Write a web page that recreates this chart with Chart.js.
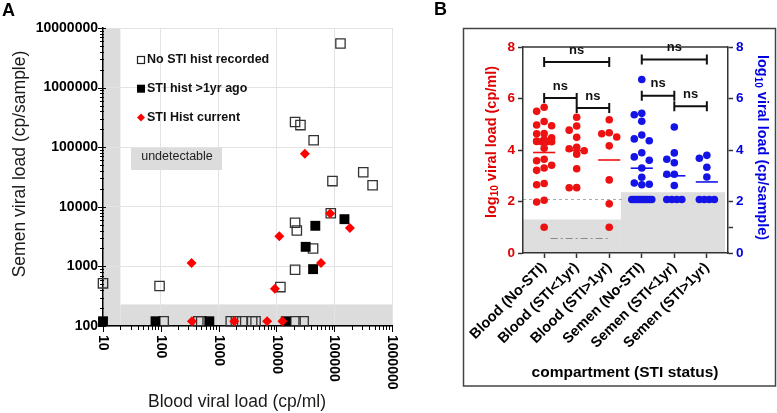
<!DOCTYPE html>
<html>
<head>
<meta charset="utf-8">
<script src="https://cdn.jsdelivr.net/npm/chart.js@4.4.1/dist/chart.umd.min.js"></script>
<style>
  html, body { margin: 0; padding: 0; background: #fff; }
  #wrap { position: relative; width: 777px; height: 413px; }
  #chartA { position: absolute; left: 0; top: 0; }
  #chartB { position: absolute; left: 400px; top: 0; }
</style>
</head>
<body>
<div id="wrap">
  <canvas id="chartA" width="400" height="413"></canvas>
  <canvas id="chartB" width="377" height="413"></canvas>
</div>
<script>
const FONT = "'Liberation Sans', Arial, Helvetica, sans-serif";

// Panel A: blood (cp/ml) vs semen (cp/sample), one pair per participant
const noStiBlood = [128000, 21000, 26000, 44000, 93000, 317000, 460000, 87000, 21000, 22500, 43000, 21000, 11700, 95, 10,
  112, 445, 500, 1620, 1990, 2560, 3800, 4350, 21400, 29500];
const noStiSemen = [5500000, 265000, 235000, 131000, 27000, 38000, 23000, 7800, 5400, 4000, 2000, 880, 450, 470, 520,
  120, 120, 120, 120, 120, 120, 120, 120, 120, 120];
const pastStiBlood = [47000, 150000, 32000, 43000, 10, 81, 690, 14500];
const pastStiSemen = [4800, 6200, 2130, 900, 120, 120, 120, 120];
const currentStiBlood = [31000, 85000, 186000, 11200, 59000, 340, 9400, 345, 1860, 6900, 12700];
const currentStiSemen = [78000, 7700, 4400, 3200, 1140, 1140, 420, 120, 120, 120, 120];

const xTicksA = [10, 100, 1000, 10000, 100000, 1000000];
const yTicksA = [100, 1000, 10000, 100000, 1000000, 10000000];

// detection limits (shaded grey)
const bloodLimit = 20;
const semenLimit = 230;

// Panel B: same data on log10 scale, grouped by compartment and STI status
const groupLabels = ['Blood (No-STI)', 'Blood (STI<1yr)', 'Blood (STI>1yr)', 'Semen (No-STI)', 'Semen (STI<1yr)', 'Semen (STI>1yr)'];
const yTicksB = [0, 2, 4, 6, 8];
const yTicksB2 = [0, 1, 2, 4, 6, 8];
// comparisons: [from group, to group, bracket height]
const bracketsB = [[0, 2, 7.42], [3, 5, 7.51], [0, 1, 6.02], [1, 2, 5.63], [3, 4, 6.11], [4, 5, 5.70]];

Chart.defaults.font.family = FONT;
Chart.defaults.color = '#000';

const toPoints = (xs, ys) => xs.map((x, i) => ({ x, y: ys[i] }));

function logSteps(min, max) {
  const out = [];
  for (let e = Math.floor(Math.log10(min)); e <= Math.ceil(Math.log10(max)); e++) {
    for (let k = 1; k <= 9; k++) {
      const v = k * Math.pow(10, e);
      if (v >= min * 0.999 && v <= max * 1.001) out.push({ v, major: k === 1 });
    }
  }
  return out;
}

const legendA = [
  { label: 'No STI hist recorded', style: 'open' },
  { label: 'STI hist >1yr ago', style: 'filled' },
  { label: 'STI Hist current', style: 'diamond' }
];

const panelA = {
  id: 'panelA',
  beforeDraw(chart) {
    const { ctx, chartArea: a, scales: { x, y } } = chart;
    const bx = x.getPixelForValue(bloodLimit);
    const sy = y.getPixelForValue(semenLimit);
    ctx.save();
    ctx.fillStyle = '#dcdcdc';
    ctx.fillRect(a.left, a.top, bx - a.left, a.bottom - a.top);
    ctx.fillRect(bx, sy, a.right - bx, a.bottom - sy);
    ctx.restore();
  },
  beforeDatasetsDraw(chart) {
    const { ctx } = chart;
    ctx.save();
    ctx.fillStyle = '#dcdcdc';
    ctx.fillRect(131, 148, 91, 22);
    ctx.fillStyle = '#222';
    ctx.font = `12.5px ${FONT}`;
    ctx.textAlign = 'center';
    ctx.textBaseline = 'middle';
    ctx.fillText('undetectable', 177, 157);
    ctx.restore();
  },
  afterDraw(chart) {
    const { ctx, chartArea: a, scales: { x, y } } = chart;
    ctx.save();
    ctx.strokeStyle = '#000';
    ctx.lineWidth = 1;
    ctx.beginPath();
    logSteps(10, 1e6).forEach(t => {
      const px = Math.round(x.getPixelForValue(t.v)) + 0.5;
      ctx.moveTo(px, a.bottom);
      ctx.lineTo(px, a.bottom + (t.major ? 6 : 4));
    });
    logSteps(100, 1e7).forEach(t => {
      const py = Math.round(y.getPixelForValue(t.v)) + 0.5;
      ctx.moveTo(a.left - (t.major ? 5 : 3), py);
      ctx.lineTo(a.left + (t.major ? 3 : 1), py);
    });
    ctx.stroke();

    // x tick labels read downwards
    ctx.fillStyle = '#000';
    ctx.font = `bold 14px ${FONT}`;
    ctx.textAlign = 'left';
    ctx.textBaseline = 'middle';
    xTicksA.forEach(v => {
      ctx.save();
      ctx.translate(x.getPixelForValue(v), a.bottom + 9);
      ctx.rotate(Math.PI / 2);
      ctx.fillText(String(v), 0, 0);
      ctx.restore();
    });

    // axis titles
    ctx.fillStyle = '#1a1a1a';
    ctx.font = `17.5px ${FONT}`;
    ctx.textAlign = 'center';
    ctx.fillText('Blood viral load (cp/ml)', 237, 402);
    ctx.save();
    ctx.translate(20, 164);
    ctx.rotate(-Math.PI / 2);
    ctx.fillText('Semen viral load (cp/sample)', 0, 0);
    ctx.restore();

    ctx.fillStyle = '#000';
    ctx.font = `bold 18px ${FONT}`;
    ctx.textAlign = 'left';
    ctx.fillText('A', 2, 11);

    // legend inside the plot
    ctx.font = `bold 12.5px ${FONT}`;
    legendA.forEach((item, i) => {
      const cy = 60 + i * 28.7;
      const cx = 141;
      if (item.style === 'open') {
        ctx.strokeStyle = '#222';
        ctx.lineWidth = 1.2;
        ctx.strokeRect(cx - 3.5, cy - 3.5, 7, 7);
      } else if (item.style === 'filled') {
        ctx.fillStyle = '#000';
        ctx.fillRect(cx - 4, cy - 4, 8, 8);
      } else {
        ctx.fillStyle = '#f00';
        ctx.beginPath();
        ctx.moveTo(cx - 4, cy);
        ctx.lineTo(cx, cy - 4);
        ctx.lineTo(cx + 4, cy);
        ctx.lineTo(cx, cy + 4);
        ctx.closePath();
        ctx.fill();
      }
      ctx.fillStyle = '#111';
      ctx.fillText(item.label, 147, cy);
    });
    ctx.restore();
  }
};

new Chart(document.getElementById('chartA'), {
  type: 'scatter',
  data: {
    datasets: [
      {
        label: 'STI Hist current',
        data: toPoints(currentStiBlood, currentStiSemen),
        pointStyle: 'rectRot',
        pointRadius: 5,
        pointBackgroundColor: '#f00',
        pointBorderWidth: 0,
        order: 1,
        clip: false
      },
      {
        label: 'STI hist >1yr ago',
        data: toPoints(pastStiBlood, pastStiSemen),
        pointStyle: 'rect',
        pointRadius: 7,
        pointBackgroundColor: '#000',
        pointBorderWidth: 0,
        order: 2,
        clip: false
      },
      {
        label: 'No STI hist recorded',
        data: toPoints(noStiBlood, noStiSemen),
        pointStyle: 'rect',
        pointRadius: 6.6,
        pointBackgroundColor: 'rgba(0,0,0,0)',
        pointBorderColor: '#333',
        pointBorderWidth: 1.3,
        order: 3,
        clip: false
      }
    ]
  },
  options: {
    responsive: false,
    animation: false,
    events: [],
    layout: { padding: { top: 28, right: 6, left: 0, bottom: 0 } },
    plugins: { legend: { display: false }, tooltip: { enabled: false } },
    scales: {
      x: {
        type: 'logarithmic',
        min: 10,
        max: 1000000,
        afterBuildTicks: s => { s.ticks = xTicksA.map(v => ({ value: v })); },
        afterFit: s => { s.height = 87; },
        ticks: { display: false },
        grid: { color: '#e3e3e3', drawTicks: false },
        border: { color: '#000', width: 1.5 }
      },
      y: {
        type: 'logarithmic',
        min: 100,
        max: 10000000,
        afterBuildTicks: s => { s.ticks = yTicksA.map(v => ({ value: v })); },
        afterFit: s => { s.width = 103; },
        ticks: {
          padding: 5,
          color: '#000',
          font: { size: 14, weight: 'bold' },
          callback: v => String(v)
        },
        grid: { color: '#e3e3e3', drawTicks: false },
        border: { color: '#000', width: 1.5 }
      }
    }
  },
  plugins: [panelA]
});

// ---------- panel B ----------
const groupsB = [noStiBlood, currentStiBlood, pastStiBlood, noStiSemen, currentStiSemen, pastStiSemen]
  .map(arr => arr.map(v => Math.log10(v)));

const PX_X = 205 / 6.3;
const PX_Y = 206 / 8;
const SLOTS = [0, -7.5, 7.5];

// simple scatter-dot layout: three columns, long rows of equal values squeezed together
function swarm(values) {
  const order = values.map((v, i) => i).sort((p, q) => values[q] - values[p]);
  const offsets = new Array(values.length).fill(0);
  const placed = [];
  let k = 0;
  while (k < order.length) {
    let j = k;
    while (j + 1 < order.length && Math.abs(values[order[j + 1]] - values[order[k]]) < 0.01) j++;
    const n = j - k + 1;
    if (n >= 4) {
      const w = Math.min(20, (n - 1) * 5);
      for (let m = 0; m < n; m++) {
        const dx = -w / 2 + (w * m) / (n - 1);
        offsets[order[k + m]] = dx;
        placed.push([dx, values[order[k + m]] * PX_Y]);
      }
    } else {
      for (let m = k; m <= j; m++) {
        const py = values[order[m]] * PX_Y;
        let best = 0;
        let bestGap = -1;
        for (const dx of SLOTS) {
          const gap = Math.min(Infinity, ...placed.map(([qx, qy]) => Math.hypot(dx - qx, py - qy)));
          if (gap >= 7.5) { best = dx; break; }
          if (gap > bestGap) { best = dx; bestGap = gap; }
        }
        offsets[order[m]] = best;
        placed.push([best, py]);
      }
    }
    k = j + 1;
  }
  return offsets.map(dx => dx / PX_X);
}

const datasetsB = [];
groupsB.forEach((vals, i) => {
  const blood = i < 3;
  const color = blood ? '#ee1111' : '#1414e6';
  const axis = blood ? 'y' : 'y2';
  const offs = swarm(vals);
  datasetsB.push({
    data: vals.map((v, k) => ({ x: i + offs[k], y: v })),
    yAxisID: axis,
    pointRadius: 3.8,
    pointBackgroundColor: color,
    pointBorderWidth: 0,
    showLine: false,
    clip: false
  });
  const mean = vals.reduce((s, v) => s + v, 0) / vals.length;
  datasetsB.push({
    data: [{ x: i - 0.34, y: mean }, { x: i + 0.34, y: mean }],
    yAxisID: axis,
    showLine: true,
    borderColor: color,
    borderWidth: 1.6,
    pointRadius: 0
  });
});

function drawLogTitle(ctx, cx, cy, angle, unit, color) {
  const big = `bold 14.5px ${FONT}`;
  const small = `bold 10px ${FONT}`;
  const rest = ` viral load (${unit})`;
  ctx.save();
  ctx.translate(cx, cy);
  ctx.rotate(angle);
  ctx.fillStyle = color;
  ctx.textAlign = 'left';
  ctx.textBaseline = 'middle';
  ctx.font = big;
  const w1 = ctx.measureText('log').width;
  const w3 = ctx.measureText(rest).width;
  ctx.font = small;
  const w2 = ctx.measureText('10').width;
  const x0 = -(w1 + w2 + w3) / 2;
  ctx.font = big;
  ctx.fillText('log', x0, 0);
  ctx.font = small;
  ctx.fillText('10', x0 + w1, 4);
  ctx.font = big;
  ctx.fillText(rest, x0 + w1 + w2, 0);
  ctx.restore();
}

const panelB = {
  id: 'panelB',
  beforeDraw(chart) {
    const { ctx, chartArea: a, scales: { x, y } } = chart;
    const split = x.getPixelForValue(2.36);
    const end = x.getPixelForValue(5.56);
    const yb = y.getPixelForValue(Math.log10(bloodLimit));
    const ys = y.getPixelForValue(Math.log10(semenLimit));
    ctx.save();
    ctx.fillStyle = '#dedede';
    ctx.fillRect(a.left, yb, split - a.left, a.bottom - yb);
    ctx.fillRect(split, ys, end - split, a.bottom - ys);

    ctx.strokeStyle = '#aaa';
    ctx.lineWidth = 1;
    ctx.setLineDash([3, 3]);
    const yd = Math.round(y.getPixelForValue(Math.log10(120))) + 0.5;
    ctx.beginPath();
    ctx.moveTo(a.left, yd);
    ctx.lineTo(x.getPixelForValue(2.45), yd);
    ctx.stroke();

    ctx.strokeStyle = '#8a8a8a';
    ctx.setLineDash([7, 3, 2, 3]);
    const yl = Math.round(y.getPixelForValue(0.6)) + 0.5;
    ctx.beginPath();
    ctx.moveTo(x.getPixelForValue(0.2), yl);
    ctx.lineTo(x.getPixelForValue(1.95), yl);
    ctx.stroke();
    ctx.restore();
  },
  afterDraw(chart) {
    const { ctx, chartArea: a, scales: { x, y } } = chart;
    ctx.save();
    // top edge of plot and outer frame
    ctx.strokeStyle = '#333';
    ctx.lineWidth = 1.5;
    ctx.beginPath();
    ctx.moveTo(a.left, a.top);
    ctx.lineTo(a.right, a.top);
    ctx.stroke();
    ctx.strokeStyle = '#444';
    ctx.strokeRect(63.5, 28.5, 312, 357.5);

    // significance brackets
    ctx.strokeStyle = '#111';
    ctx.fillStyle = '#111';
    ctx.lineWidth = 2;
    ctx.font = `bold 13px ${FONT}`;
    ctx.textAlign = 'center';
    ctx.textBaseline = 'middle';
    bracketsB.forEach(([from, to, level]) => {
      const x1 = x.getPixelForValue(from);
      const x2 = x.getPixelForValue(to);
      const py = y.getPixelForValue(level);
      ctx.beginPath();
      ctx.moveTo(x1, py - 5);
      ctx.lineTo(x1, py + 5);
      ctx.moveTo(x1, py);
      ctx.lineTo(x2, py);
      ctx.moveTo(x2, py - 5);
      ctx.lineTo(x2, py + 5);
      ctx.stroke();
      ctx.fillText('ns', (x1 + x2) / 2, py - 12);
    });

    drawLogTitle(ctx, 91.7, 142, -Math.PI / 2, 'cp/ml', '#e00000');
    drawLogTitle(ctx, 361.7, 147.5, Math.PI / 2, 'cp/sample', '#0000e0');

    ctx.fillStyle = '#000';
    ctx.font = `bold 15.5px ${FONT}`;
    ctx.fillText('compartment (STI status)', 225, 373);

    ctx.font = `bold 18px ${FONT}`;
    ctx.textAlign = 'left';
    ctx.fillText('B', 34, 10);
    ctx.restore();
  }
};

const axisTicks = { drawOnChartArea: false, tickLength: 5, tickColor: '#333', tickWidth: 1.5 };

new Chart(document.getElementById('chartB'), {
  type: 'scatter',
  data: { datasets: datasetsB },
  options: {
    responsive: false,
    animation: false,
    events: [],
    layout: { padding: { top: 47, right: 0, left: 0, bottom: 0 } },
    plugins: { legend: { display: false }, tooltip: { enabled: false } },
    scales: {
      x: {
        type: 'linear',
        min: -0.65,
        max: 5.65,
        afterBuildTicks: s => { s.ticks = groupLabels.map((_, i) => ({ value: i })); },
        afterFit: s => { s.height = 160; },
        ticks: {
          autoSkip: false,
          minRotation: 45,
          maxRotation: 45,
          padding: 1,
          color: '#000',
          font: { size: 14.5, weight: 'bold' },
          callback: v => groupLabels[v]
        },
        grid: axisTicks,
        border: { color: '#333', width: 1.5 }
      },
      y: {
        position: 'left',
        min: 0,
        max: 8,
        afterBuildTicks: s => { s.ticks = yTicksB.map(v => ({ value: v })); },
        afterFit: s => { s.width = 123; },
        ticks: { padding: 3, color: '#e00000', font: { size: 13.5, weight: 'bold' } },
        grid: axisTicks,
        border: { color: '#333', width: 1.5 }
      },
      y2: {
        position: 'right',
        min: 0,
        max: 8,
        afterBuildTicks: s => { s.ticks = yTicksB2.map(v => ({ value: v })); },
        afterFit: s => { s.width = 49; },
        ticks: {
          padding: 3,
          color: '#0000e0',
          font: { size: 13.5, weight: 'bold' },
          callback: v => (v === 1 ? '' : String(v))
        },
        grid: axisTicks,
        border: { color: '#333', width: 1.5 }
      }
    }
  },
  plugins: [panelB]
});
</script>
</body>
</html>
